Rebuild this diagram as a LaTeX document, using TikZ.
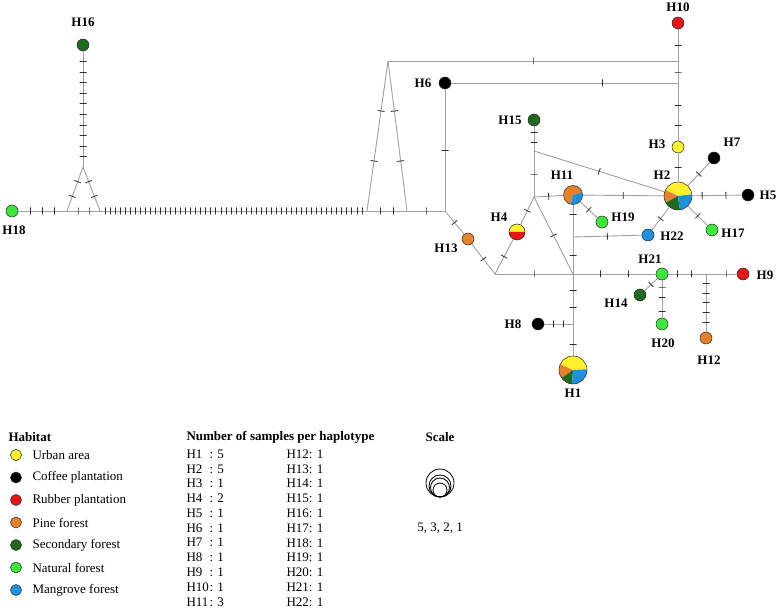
\documentclass[tikz,border=0pt]{standalone}
\usepackage{fontspec}
\setmainfont{Liberation Serif}
\usetikzlibrary{positioning}

\definecolor{urban}{HTML}{FFF12B}
\definecolor{coffee}{HTML}{000000}
\definecolor{rubber}{HTML}{E81414}
\definecolor{pine}{HTML}{E8822A}
\definecolor{secondary}{HTML}{1E6B1E}
\definecolor{natural}{HTML}{3CE83C}
\definecolor{mangrove}{HTML}{1E90E0}
\definecolor{linkgray}{HTML}{A0A0A0}
\definecolor{tickgray}{HTML}{303030}

\tikzset{
  hap/.style={circle, draw=black!85, line width=0.5pt, inner sep=0pt, minimum size=12pt},
  link/.style={draw=linkgray, line width=0.9pt},
  tick/.style={rectangle, draw=tickgray, line width=0.8pt, sloped, inner sep=0pt,
    minimum width=0pt, minimum height=7pt},
  lab/.style={font=\fontsize{13}{15}\selectfont\bfseries},
  legtext/.style={anchor=west, font=\fontsize{13}{15}\selectfont},
}

% one wedge of a pie node
\newcommand\pieslice[3]{\fill[#3] (path picture bounding box.center) -- ++(#1:20pt)
  arc[start angle=#1, end angle=#2, radius=20pt] -- cycle;}
% edge with n evenly spaced mutation ticks
\newcommand\mut[3]{\draw[link] (#1) -- (#2)
  \foreach \k [evaluate=\k as \q using \k/(#3+1)] in {1,...,#3} {node[tick,pos=\q]{}};}
% edge with ticks at given positions
\newcommand\mutp[3]{\draw[link] (#1) -- (#2)
  \foreach \q in {#3} {node[tick,pos=\q]{}};}

\begin{document}
\begin{tikzpicture}[x=1pt, y=-1pt, font=\fontsize{13}{15}\selectfont]
\useasboundingbox (0,0) rectangle (777,612);

% haplotypes
\node[hap, fill=secondary] (H16) at (83,45) {};
\node[hap, fill=natural] (H18) at (12,211) {};
\node[hap, fill=coffee] (H6) at (445,83) {};
\node[hap, fill=rubber] (H10) at (678,23) {};
\node[hap, fill=urban] (H3) at (678,147) {};
\node[hap, fill=secondary] (H15) at (534,120) {};
\node[hap, fill=coffee] (H7) at (714,158) {};
\node[hap, fill=coffee] (H5) at (748,195) {};
\node[hap, fill=natural] (H17) at (712,230) {};
\node[hap, fill=natural] (H19) at (602,222) {};
\node[hap, fill=mangrove] (H22) at (648,235) {};
\node[hap, fill=pine] (H13) at (468,239) {};
\node[hap, fill=coffee] (H8) at (538,324) {};
\node[hap, fill=natural] (H21) at (662,274) {};
\node[hap, fill=rubber] (H9) at (743,274) {};
\node[hap, fill=secondary] (H14) at (640,295) {};
\node[hap, fill=natural] (H20) at (662,324) {};
\node[hap, fill=pine] (H12) at (706,338) {};
\node[hap, minimum size=16pt,
  path picture={\pieslice{0}{180}{urban}\pieslice{180}{360}{rubber}}] (H4) at (517,232) {};
\node[hap, minimum size=19pt,
  path picture={\pieslice{15}{255}{pine}\pieslice{255}{375}{mangrove}}] (H11) at (573,195) {};
\node[hap, minimum size=28pt,
  path picture={\pieslice{7}{155}{urban}\pieslice{155}{209}{pine}
    \pieslice{209}{278}{secondary}\pieslice{278}{367}{mangrove}}] (H2) at (678,196) {};
\node[hap, minimum size=28pt,
  path picture={\pieslice{3}{156}{urban}\pieslice{156}{215}{pine}
    \pieslice{215}{266}{secondary}\pieslice{266}{363}{mangrove}}] (H1) at (573,370) {};

% median vectors
\coordinate (m1) at (83,167);
\coordinate (m2) at (67,211);
\coordinate (m3) at (100,211);
\coordinate (m4) at (367,211);
\coordinate (m5) at (388,61);
\coordinate (m6) at (407,211);
\coordinate (m7) at (445,211);
\coordinate (m8) at (678,61);
\coordinate (m9) at (678,83);
\coordinate (m10) at (534,151);
\coordinate (m11) at (534,197);
\coordinate (m12) at (495,274);
\coordinate (m13) at (573,274);
\coordinate (m14) at (573,324);
\coordinate (m15) at (573,237);
\coordinate (m16) at (706,274);

% links
\mut{H18}{m2}{3}
\mut{m2}{m3}{2}
\mut{m2}{m1}{2}
\mut{m3}{m1}{2}
\mut{m1}{H16}{10}
\mut{m3}{m4}{52}
\mut{m4}{m6}{2}
\mut{m4}{m5}{2}
\mut{m6}{m5}{2}
\mut{m6}{m7}{1}
\mut{m5}{m8}{1}
\mut{m7}{H6}{1}
\mutp{H6}{m9}{0.665}
\mut{H10}{m8}{1}
\mut{m8}{m9}{1}
\mutp{m9}{H3}{0.38,0.74}
\mut{H3}{H2}{1}
\mut{m7}{H13}{1}
\mut{H13}{m12}{1}
\mut{m12}{H4}{1}
\mut{H4}{m11}{1}
\mut{m12}{m13}{1}
\mut{m11}{m13}{1}
\mutp{H15}{m10}{0.24,0.64}
\mut{m10}{m11}{1}
\mut{m10}{H2}{1}
\mut{m11}{H11}{1}
\mut{H11}{H2}{1}
\mut{H11}{H19}{1}
\mutp{H11}{m15}{0.3}
\mut{m15}{m13}{1}
\mut{m15}{H22}{1}
\mut{H22}{H2}{1}
\mut{H2}{H7}{1}
\mutp{H2}{H5}{0.2,0.68}
\mut{H2}{H17}{1}
\mut{m13}{H21}{2}
\mutp{H21}{m16}{0.24,0.6}
\mutp{m16}{H9}{0.65}
\mut{m16}{H12}{5}
\mutp{H21}{H20}{0.18,0.45,0.84}
\mut{H21}{H14}{1}
\mut{m13}{m14}{2}
\mut{m14}{H8}{2}
\mutp{m14}{H1}{0.65}

% haplotype labels
\node[lab] (lH1) at (573,393) {H1};
\node[lab] (lH2) at (662,175) {H2};
\node[lab] (lH3) at (657,144) {H3};
\node[lab] (lH4) at (499,217) {H4};
\node[lab] (lH5) at (768,195) {H5};
\node[lab] (lH6) at (423,83) {H6};
\node[lab] (lH7) at (732,142) {H7};
\node[lab] (lH8) at (513,324) {H8};
\node[lab] (lH9) at (765,275) {H9};
\node[lab] (lH10) at (678,7) {H10};
\node[lab] (lH11) at (562,175) {H11};
\node[lab] (lH12) at (709,360) {H12};
\node[lab] (lH13) at (446,248) {H13};
\node[lab] (lH14) at (616,303) {H14};
\node[lab] (lH15) at (510,120) {H15};
\node[lab] (lH16) at (83,22) {H16};
\node[lab] (lH17) at (733,233) {H17};
\node[lab] (lH18) at (14,230) {H18};
\node[lab] (lH19) at (623,217) {H19};
\node[lab] (lH20) at (663,343) {H20};
\node[lab] (lH21) at (650,259) {H21};
\node[lab] (lH22) at (672,236) {H22};

% habitat legend
\node[legtext, font=\fontsize{13}{15}\selectfont\bfseries] (habitat) at (5,437) {Habitat};
\foreach \c/\t [count=\i] in {urban/Urban area, coffee/Coffee plantation,
    rubber/Rubber plantation, pine/Pine forest, secondary/Secondary forest,
    natural/Natural forest, mangrove/Mangrove forest} {
  \node[hap, fill=\c, minimum size=11pt] (hab\i) at (16,{455+22.5*(\i-1)}) {};
  \node[legtext] (habt\i) at (29,{455+22.5*(\i-1)}) {\t};
}

% sample counts
\node[legtext, font=\fontsize{13}{15}\selectfont\bfseries] (samples) at (183,437)
  {Number of samples per haplotype};
\foreach \h/\n [count=\i] in {H1/5, H2/5, H3/1, H4/2, H5/1, H6/1, H7/1, H8/1,
    H9/1, H10/1, H11/3} {
  \node[legtext] (cnt\i) at (183,{454+14.8*(\i-1)}) {\makebox[23pt][l]{\h}: \n};
}
\foreach \h [count=\i] in {H12, H13, H14, H15, H16, H17, H18, H19, H20, H21, H22} {
  \node[legtext] (cntb\i) at (283,{454+14.8*(\i-1)}) {\h: 1};
}

% scale
\node[lab] (scale) at (440,437) {Scale};
\node[circle, draw, line width=0.8pt, inner sep=0pt, minimum size=28pt] (s5) at (440,483) {};
\node[circle, draw, line width=0.8pt, inner sep=0pt, minimum size=22pt] (s3) at (440,486) {};
\node[circle, draw, line width=0.8pt, inner sep=0pt, minimum size=19pt] (s2) at (440,487.5) {};
\node[circle, draw, line width=0.8pt, inner sep=0pt, minimum size=14pt] (s1) at (440,490) {};
\node (scalenums) at (440,528) {5, 3, 2, 1};
\end{tikzpicture}
\end{document}
